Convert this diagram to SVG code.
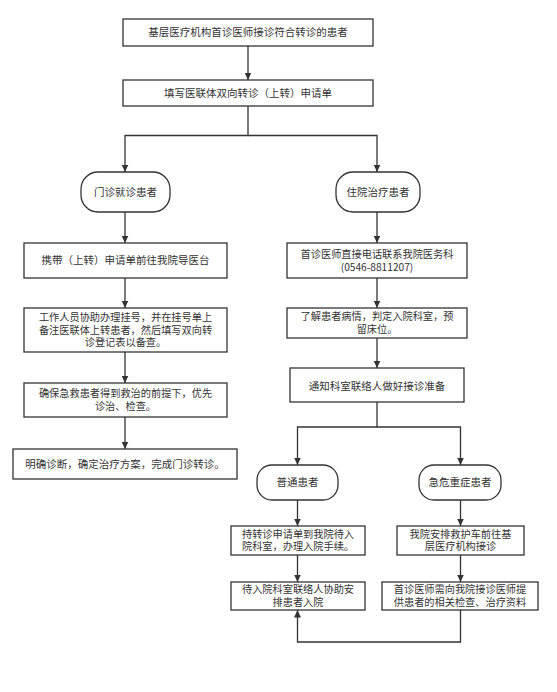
<svg xmlns="http://www.w3.org/2000/svg" width="557" height="692" viewBox="0 0 557 692">
<style>
.box{fill:#fff;stroke:#333;stroke-width:1.3}
.t{font-family:"Noto Sans CJK SC","Noto Sans",sans-serif;font-size:10.5px;fill:#333;text-anchor:middle}
.s{font-size:10.2px}
.c{fill:none;stroke:#333;stroke-width:1.3}
</style>
<defs>
<marker id="ah" markerUnits="userSpaceOnUse" markerWidth="8" markerHeight="8" refX="7.5" refY="3.5" orient="auto">
<path d="M0,0 L7.5,3.5 L0,7 z" fill="#333"/>
</marker>
</defs>
<rect width="557" height="692" fill="#fff"/>
<g id="connectors">
<path class="c" d="M248,46 V80" marker-end="url(#ah)"/>
<path class="c" d="M248,106 V135.5 H125 V172" marker-end="url(#ah)"/>
<path class="c" d="M248,135.5 H377 V172" marker-end="url(#ah)"/>
<path class="c" d="M125,212 V243" marker-end="url(#ah)"/>
<path class="c" d="M125,278 V308" marker-end="url(#ah)"/>
<path class="c" d="M125,352 V383" marker-end="url(#ah)"/>
<path class="c" d="M125,417 V449" marker-end="url(#ah)"/>
<path class="c" d="M377,212 V243" marker-end="url(#ah)"/>
<path class="c" d="M377,278 V308" marker-end="url(#ah)"/>
<path class="c" d="M377,338 V368" marker-end="url(#ah)"/>
<path class="c" d="M377,402 V427 H297.5 V465" marker-end="url(#ah)"/>
<path class="c" d="M377,427 H460.5 V465" marker-end="url(#ah)"/>
<path class="c" d="M297.5,500 V526" marker-end="url(#ah)"/>
<path class="c" d="M297.5,555 V582" marker-end="url(#ah)"/>
<path class="c" d="M460.5,500 V526" marker-end="url(#ah)"/>
<path class="c" d="M460.5,555 V582" marker-end="url(#ah)"/>
<path class="c" d="M460.5,610 V642 H297.5 V610" marker-end="url(#ah)"/>
</g>
<g id="n1"><rect class="box" x="123" y="19" width="250" height="27"/><text class="t" x="248" y="36.3">基层医疗机构首诊医师接诊符合转诊的患者</text></g>
<g id="n2"><rect class="box" x="123" y="80" width="250" height="26"/><text class="t" x="248" y="96.8">填写医联体双向转诊（上转）申请单</text></g>
<g id="n3"><rect class="box" x="81" y="172" width="89" height="40" rx="17"/><text class="t" x="125.5" y="195.8">门诊就诊患者</text></g>
<g id="n4"><rect class="box" x="336" y="172" width="84" height="40" rx="17"/><text class="t" x="378" y="195.8">住院治疗患者</text></g>
<g id="n5"><rect class="box" x="24" y="243" width="203" height="35"/><text class="t" x="125.5" y="264.3">携带（上转）申请单前往我院导医台</text></g>
<g id="n6"><rect class="box" x="24" y="308" width="203" height="44"/><text class="t s" x="125.5" y="320.8"><tspan x="125.5">工作人员协助办理挂号，并在挂号单上</tspan><tspan x="125.5" dy="12.8">备注医联体上转患者，然后填写双向转</tspan><tspan x="125.5" dy="12.8">诊登记表以备查。</tspan></text></g>
<g id="n7"><rect class="box" x="24" y="383" width="203" height="34"/><text class="t s" x="125.5" y="397"><tspan x="125.5">确保急救患者得到救治的前提下，优先</tspan><tspan x="125.5" dy="13.3">诊治、检查。</tspan></text></g>
<g id="n8"><rect class="box" x="13" y="449" width="224" height="30"/><text class="t" x="125" y="467.7">明确诊断，确定治疗方案，完成门诊转诊。</text></g>
<g id="n9"><rect class="box" x="287" y="243" width="180" height="35"/><text class="t s" x="377" y="257.7"><tspan x="377">首诊医师直接电话联系我院医务科</tspan><tspan x="377" dy="12.8">(0546-8811207)</tspan></text></g>
<g id="n10"><rect class="box" x="287" y="308" width="180" height="30"/><text class="t s" x="377" y="320.2"><tspan x="377">了解患者病情，判定入院科室，预</tspan><tspan x="377" dy="12.8">留床位。</tspan></text></g>
<g id="n11"><rect class="box" x="290" y="368" width="174" height="34"/><text class="t" x="377" y="389.7">通知科室联络人做好接诊准备</text></g>
<g id="n12"><rect class="box" x="257" y="465" width="81" height="35" rx="15"/><text class="t" x="297.5" y="486.2">普通患者</text></g>
<g id="n13"><rect class="box" x="419" y="465" width="82" height="35" rx="15"/><text class="t" x="460" y="486.2">急危重症患者</text></g>
<g id="n14"><rect class="box" x="231" y="526" width="134" height="29"/><text class="t s" x="298" y="537.6"><tspan x="298">持转诊申请单到我院待入</tspan><tspan x="298" dy="12.8">院科室，办理入院手续。</tspan></text></g>
<g id="n15"><rect class="box" x="397" y="526" width="127" height="29"/><text class="t s" x="460.5" y="537.6"><tspan x="460.5">我院安排救护车前往基</tspan><tspan x="460.5" dy="12.8">层医疗机构接诊</tspan></text></g>
<g id="n16"><rect class="box" x="231" y="582" width="134" height="28"/><text class="t s" x="298" y="593.1"><tspan x="298">待入院科室联络人协助安</tspan><tspan x="298" dy="12.8">排患者入院</tspan></text></g>
<g id="n17"><rect class="box" x="382" y="582" width="156" height="28"/><text class="t s" x="460" y="593.1"><tspan x="460">首诊医师需向我院接诊医师提</tspan><tspan x="460" dy="12.8">供患者的相关检查、治疗资料</tspan></text></g>
</svg>
